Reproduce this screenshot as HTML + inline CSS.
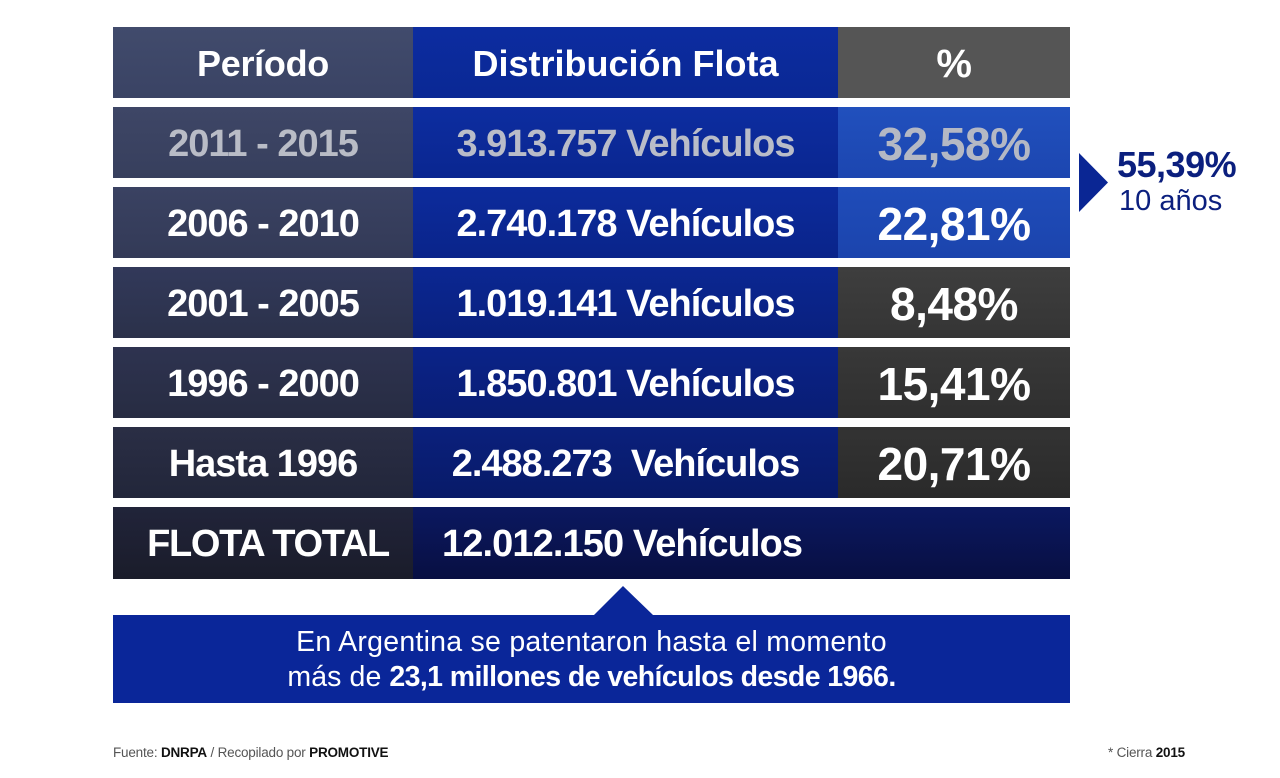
<!DOCTYPE html>
<html><head><meta charset="utf-8">
<style>
html,body{margin:0;padding:0;background:#fff;}
body{width:1280px;height:778px;position:relative;overflow:hidden;font-family:"Liberation Sans",sans-serif;}
.c{position:absolute;display:flex;align-items:center;justify-content:center;color:#fff;font-weight:bold;white-space:nowrap;box-sizing:border-box;padding-top:3px;}
.t{font-size:38px;letter-spacing:-1px;}
.p{font-size:46px;letter-spacing:-0.5px;}
.h{font-size:36px;letter-spacing:-0.3px;}
</style></head><body>

<!-- header -->
<div class="c h" style="left:113px;top:27px;width:300px;height:71px;background:linear-gradient(#414b6c,#3a4364);">Período</div>
<div class="c h" style="left:413px;top:27px;width:425px;height:71px;background:linear-gradient(#0c2ca0,#0a2894);letter-spacing:0px;">Distribución Flota</div>
<div class="c h" style="left:838px;top:27px;width:232px;height:71px;background:#555555;font-size:40px;">%</div>

<!-- row1 -->
<div class="c t" style="left:113px;top:107px;width:300px;height:71px;background:linear-gradient(#3e4666,#373f5d);color:#b9bcc6;">2011 - 2015</div>
<div class="c t" style="left:413px;top:107px;width:425px;height:71px;background:linear-gradient(#0d2da0,#0a2690);color:#b9bcc8;">3.913.757 Vehículos</div>
<div class="c p" style="left:838px;top:107px;width:232px;height:71px;background:linear-gradient(#2150bd,#1c46b0);color:#b4b8c4;">32,58%</div>

<!-- row2 -->
<div class="c t" style="left:113px;top:187px;width:300px;height:71px;background:linear-gradient(#3a4262,#333a57);">2006 - 2010</div>
<div class="c t" style="left:413px;top:187px;width:425px;height:71px;background:linear-gradient(#0c2b9c,#0a248a);">2.740.178 Vehículos</div>
<div class="c p" style="left:838px;top:187px;width:232px;height:71px;background:linear-gradient(#1f4cb9,#1b44ad);">22,81%</div>

<!-- row3 -->
<div class="c t" style="left:113px;top:267px;width:300px;height:71px;background:linear-gradient(#32395a,#2b314a);">2001 - 2005</div>
<div class="c t" style="left:413px;top:267px;width:425px;height:71px;background:linear-gradient(#0b2792,#09207e);">1.019.141 Vehículos</div>
<div class="c p" style="left:838px;top:267px;width:232px;height:71px;background:linear-gradient(#3e3e3e,#353535);">8,48%</div>

<!-- row4 -->
<div class="c t" style="left:113px;top:347px;width:300px;height:71px;background:linear-gradient(#2e3350,#272c42);">1996 - 2000</div>
<div class="c t" style="left:413px;top:347px;width:425px;height:71px;background:linear-gradient(#0a2388,#091d74);">1.850.801 Vehículos</div>
<div class="c p" style="left:838px;top:347px;width:232px;height:71px;background:linear-gradient(#383838,#2f2f2f);">15,41%</div>

<!-- row5 -->
<div class="c t" style="left:113px;top:427px;width:300px;height:71px;background:linear-gradient(#2a2e45,#22263a);">Hasta 1996</div>
<div class="c t" style="left:413px;top:427px;width:425px;height:71px;background:linear-gradient(#0a207c,#081a68);">2.488.273&nbsp; Vehículos</div>
<div class="c p" style="left:838px;top:427px;width:232px;height:71px;background:linear-gradient(#333333,#2a2a2a);">20,71%</div>

<!-- total -->
<div class="c t" style="left:113px;top:507px;width:300px;height:72px;background:linear-gradient(#21243a,#1a1c2a);padding-left:10px;letter-spacing:-1.3px;">FLOTA TOTAL</div>
<div style="position:absolute;left:413px;top:507px;width:657px;height:72px;background:linear-gradient(#0b1860,#080f42);"></div>
<div class="c t" style="left:442px;top:507px;height:72px;justify-content:flex-start;letter-spacing:-0.9px;">12.012.150 Vehículos</div>

<!-- side note -->
<svg style="position:absolute;left:1079px;top:153px;" width="30" height="60"><polygon points="0,0 29,29.5 0,59" fill="#0a2694"/></svg>
<div style="position:absolute;left:1117px;top:144px;font-size:36px;font-weight:bold;color:#0b1f7e;letter-spacing:-0.5px;line-height:42px;">55,39%</div>
<div style="position:absolute;left:1119px;top:183px;font-size:29px;color:#0b1f7e;line-height:36px;">10 años</div>

<!-- bubble -->
<svg style="position:absolute;left:594px;top:586px;" width="60" height="30"><polygon points="0,29 29,0 59,29" fill="#0a2699"/></svg>
<div style="position:absolute;left:113px;top:615px;width:957px;height:88px;background:#0a2699;color:#fff;text-align:center;font-size:28.5px;line-height:35px;box-sizing:border-box;padding-top:10px;">
<span style="letter-spacing:0.25px;">En Argentina se patentaron hasta el momento</span><br><span style="letter-spacing:0.1px;">más de</span> <b style="letter-spacing:-0.6px;">23,1 millones de vehículos desde 1966.</b>
</div>

<!-- footer -->
<div style="position:absolute;left:113px;top:745px;font-size:13.5px;color:#555;line-height:16px;letter-spacing:-0.2px;">Fuente: <b style="color:#111">DNRPA</b> / Recopilado por <b style="color:#111">PROMOTIVE</b></div>
<div style="position:absolute;left:1108px;top:745px;font-size:13.5px;color:#555;line-height:16px;letter-spacing:-0.2px;">* Cierra <b style="color:#111">2015</b></div>

</body></html>
